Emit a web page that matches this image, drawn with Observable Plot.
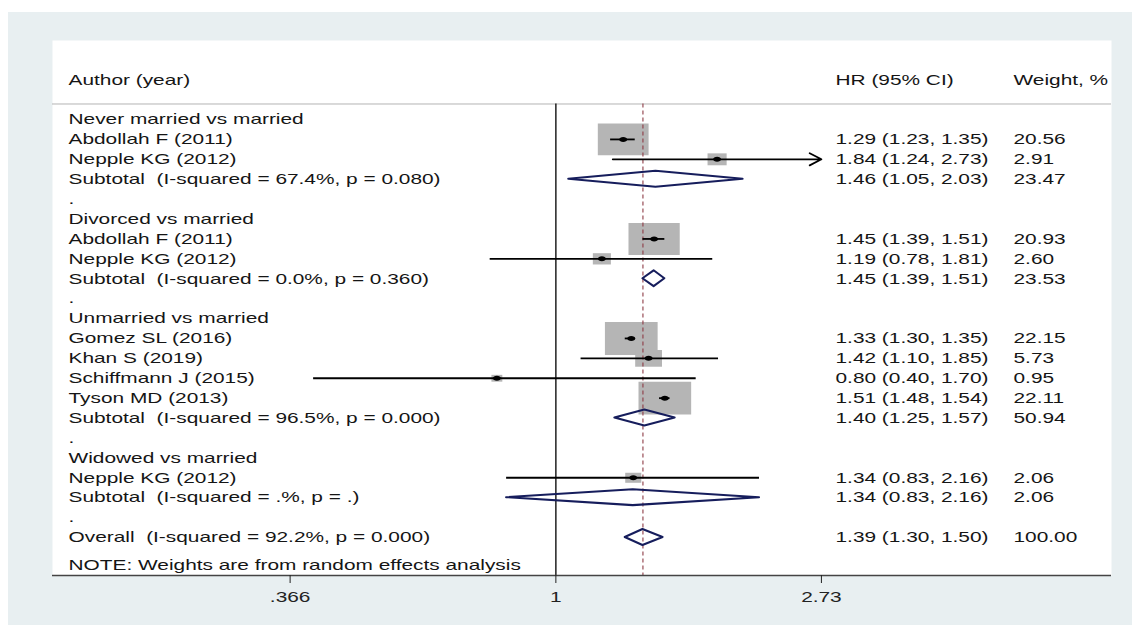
<!DOCTYPE html>
<html>
<head>
<meta charset="utf-8">
<script src="https://cdn.jsdelivr.net/npm/d3@7"></script>
<script src="https://cdn.jsdelivr.net/npm/@observablehq/plot@0.6"></script>
<style>
  html, body { margin: 0; padding: 0; background: #ffffff; }
  #bg { position: absolute; left: 8px; top: 12px; width: 1124px; height: 613px; background: #e8eff1; }
  #chart { position: absolute; left: 0; top: 0; }
  #chart svg text { white-space: pre; }
</style>
</head>
<body>
<div id="bg"></div>
<div id="chart"></div>
<script>
// ---------------- data ----------------
const groups = ["Never married vs married", "Divorced vs married", "Unmarried vs married", "Widowed vs married"];

const studyGroup  = [0, 0, 1, 1, 2, 2, 2, 2, 3];
const studyLabels = ["Abdollah F (2011)", "Nepple KG (2012)", "Abdollah F (2011)", "Nepple KG (2012)",
                     "Gomez SL (2016)", "Khan S (2019)", "Schiffmann J (2015)", "Tyson MD (2013)", "Nepple KG (2012)"];
const studyHR     = [1.29, 1.84, 1.45, 1.19, 1.33, 1.42, 0.80, 1.51, 1.34];
const studyLo     = [1.23, 1.24, 1.39, 0.78, 1.30, 1.10, 0.40, 1.48, 0.83];
const studyHi     = [1.35, 2.73, 1.51, 1.81, 1.35, 1.85, 1.70, 1.54, 2.16];
const studyWeight = [20.56, 2.91, 20.93, 2.60, 22.15, 5.73, 0.95, 22.11, 2.06];

const subtotalLabels = ["Subtotal  (I-squared = 67.4%, p = 0.080)", "Subtotal  (I-squared = 0.0%, p = 0.360)",
                        "Subtotal  (I-squared = 96.5%, p = 0.000)", "Subtotal  (I-squared = .%, p = .)"];
const subtotalHR     = [1.46, 1.45, 1.40, 1.34];
const subtotalLo     = [1.05, 1.39, 1.25, 0.83];
const subtotalHi     = [2.03, 1.51, 1.57, 2.16];
const subtotalWeight = [23.47, 23.53, 50.94, 2.06];

const overallLabel = "Overall  (I-squared = 92.2%, p = 0.000)";
const overallHR = 1.39, overallLo = 1.30, overallHi = 1.50, overallWeight = 100.00;

const noteText = "NOTE: Weights are from random effects analysis";
const headers = ["Author (year)", "HR (95% CI)", "Weight, %"];

const xTicks = [0.366, 1, 2.73];
const xTickLabels = [".366", "1", "2.73"];

// ---------------- layout constants ----------------
const X_DOMAIN = [0.149, 8.178];
const Y_TOP = -3.97, Y_BOTTOM = 22.91;   // row units
const HEADER_ROW = -2, HEADER_RULE = -0.78;
const DIAMOND_HALF = 0.4;
const BOX_ASPECT = 1.6;
const TEXT_STRETCH = 1.39;
const FONT = "'Liberation Sans', Arial, sans-serif";
const NAVY = "#161d5c";

// ---------------- rows ----------------
const rows = [];
let r = 0;
groups.forEach((g, gi) => {
  rows.push({row: r++, kind: "group", label: g});
  studyGroup.forEach((sg, i) => {
    if (sg === gi) rows.push({row: r++, kind: "study", label: studyLabels[i], hr: studyHR[i], lo: studyLo[i], hi: studyHi[i], w: studyWeight[i]});
  });
  rows.push({row: r++, kind: "subtotal", label: subtotalLabels[gi], hr: subtotalHR[gi], lo: subtotalLo[gi], hi: subtotalHi[gi], w: subtotalWeight[gi]});
  rows.push({row: r++, kind: "blank", label: "."});
});
rows.push({row: r++, kind: "overall", label: overallLabel, hr: overallHR, lo: overallLo, hi: overallHi, w: overallWeight});
const noteRow = r + 0.4;

const xMaxTick = d3.max(xTicks);
const studies = rows.filter(d => d.kind === "study");
const plainCI = studies.filter(d => d.hi < xMaxTick);
const arrowCI = studies.filter(d => d.hi >= xMaxTick);
const pooled = rows.filter(d => d.kind === "subtotal" || d.kind === "overall");
const diamondPts = pooled.flatMap(d => [
  {id: d.row, x: d.lo, y1: d.row, y2: d.row},
  {id: d.row, x: d.hr, y1: d.row - DIAMOND_HALF, y2: d.row + DIAMOND_HALF},
  {id: d.row, x: d.hi, y1: d.row, y2: d.row}
]);
const withValues = rows.filter(d => d.hr !== undefined);
const fmtCI = d => `${d.hr.toFixed(2)} (${d.lo.toFixed(2)}, ${d.hi.toFixed(2)})`;

// custom symbols
const boxSymbol = {draw(ctx, size) {
  const h = Math.sqrt(size / Math.PI), w = h * BOX_ASPECT;
  ctx.moveTo(-w, -h); ctx.lineTo(w, -h); ctx.lineTo(w, h); ctx.lineTo(-w, h); ctx.closePath();
}};
const pointSymbol = {draw(ctx, size) {
  const h = Math.sqrt(size / Math.PI), w = h * BOX_ASPECT, k = 0.5523;
  ctx.moveTo(w, 0);
  ctx.bezierCurveTo(w, k * h, k * w, h, 0, h);
  ctx.bezierCurveTo(-k * w, h, -w, k * h, -w, 0);
  ctx.bezierCurveTo(-w, -k * h, -k * w, -h, 0, -h);
  ctx.bezierCurveTo(k * w, -h, w, -k * h, w, 0);
  ctx.closePath();
}};

const textCommon = {fontFamily: FONT, fontSize: 15, fill: "#151515", textAnchor: "start", frameAnchor: "left"};

const chart = Plot.plot({
  width: 1132,
  height: 625,
  marginLeft: 52,
  marginRight: 21,
  marginTop: 40,
  marginBottom: 50,
  style: {background: "transparent", overflow: "visible"},
  x: {type: "log", domain: X_DOMAIN},
  y: {domain: [Y_TOP, Y_BOTTOM], reverse: true, axis: null},
  r: {type: "sqrt", domain: [0, 25], range: [0, 17.5]},
  marks: [
    Plot.frame({fill: "white", stroke: "none"}),
    Plot.ruleY([HEADER_RULE], {stroke: "#b3b3b3", strokeWidth: 1}),
    Plot.dot(studies, {x: "hr", y: "row", r: "w", symbol: boxSymbol, fill: "#b5b5b5", stroke: "none"}),
    Plot.ruleX([1], {y1: HEADER_RULE, y2: Y_BOTTOM, stroke: "#111", strokeWidth: 1.4}),
    Plot.ruleX([overallHR], {y1: HEADER_RULE, y2: Y_BOTTOM, stroke: "#8e3b46", strokeWidth: 1.1, strokeDasharray: "4,3"}),
    Plot.ruleY(plainCI, {y: "row", x1: "lo", x2: "hi", stroke: "#000", strokeWidth: 1.8}),
    Plot.arrow(arrowCI, {x1: "lo", x2: () => xMaxTick, y1: "row", y2: "row", stroke: "#000", strokeWidth: 1.8, headLength: 11, headAngle: 55}),
    Plot.dot(studies, {x: "hr", y: "row", r: 2.5, symbol: pointSymbol, fill: "#000", stroke: "none"}),
    Plot.area(diamondPts, {x1: "x", y1: "y1", y2: "y2", z: "id", fill: "none", stroke: NAVY, strokeWidth: 2.1}),
    Plot.text(headers.slice(0, 1), {...textCommon, y: () => HEADER_ROW, text: d => d, dx: 16}),
    Plot.text(headers.slice(1, 2), {...textCommon, y: () => HEADER_ROW, text: d => d, dx: 783}),
    Plot.text(headers.slice(2, 3), {...textCommon, y: () => HEADER_ROW, text: d => d, dx: 961}),
    Plot.text(rows, {...textCommon, y: "row", text: "label", dx: 16}),
    Plot.text(withValues, {...textCommon, y: "row", text: fmtCI, dx: 783}),
    Plot.text(withValues, {...textCommon, y: "row", text: d => d.w.toFixed(2), dx: 961}),
    Plot.text([noteText], {...textCommon, y: () => noteRow, text: d => d, dx: 16}),
    Plot.ruleY([Y_BOTTOM], {stroke: "#444", strokeWidth: 1.3}),
    Plot.axisX({ticks: xTicks, tickFormat: d => xTickLabels[xTicks.indexOf(d)], tickSize: 8, tickPadding: 8,
                fontSize: 15, fontFamily: FONT, color: "#222", label: null})
  ]
});

document.getElementById("chart").appendChild(chart);

// widen the glyphs horizontally, as in the reference image
chart.querySelectorAll("text").forEach(t => {
  const len = t.getComputedTextLength();
  if (len > 0) {
    t.setAttribute("textLength", (len * TEXT_STRETCH).toFixed(2));
    t.setAttribute("lengthAdjust", "spacingAndGlyphs");
  }
});
</script>
</body>
</html>
